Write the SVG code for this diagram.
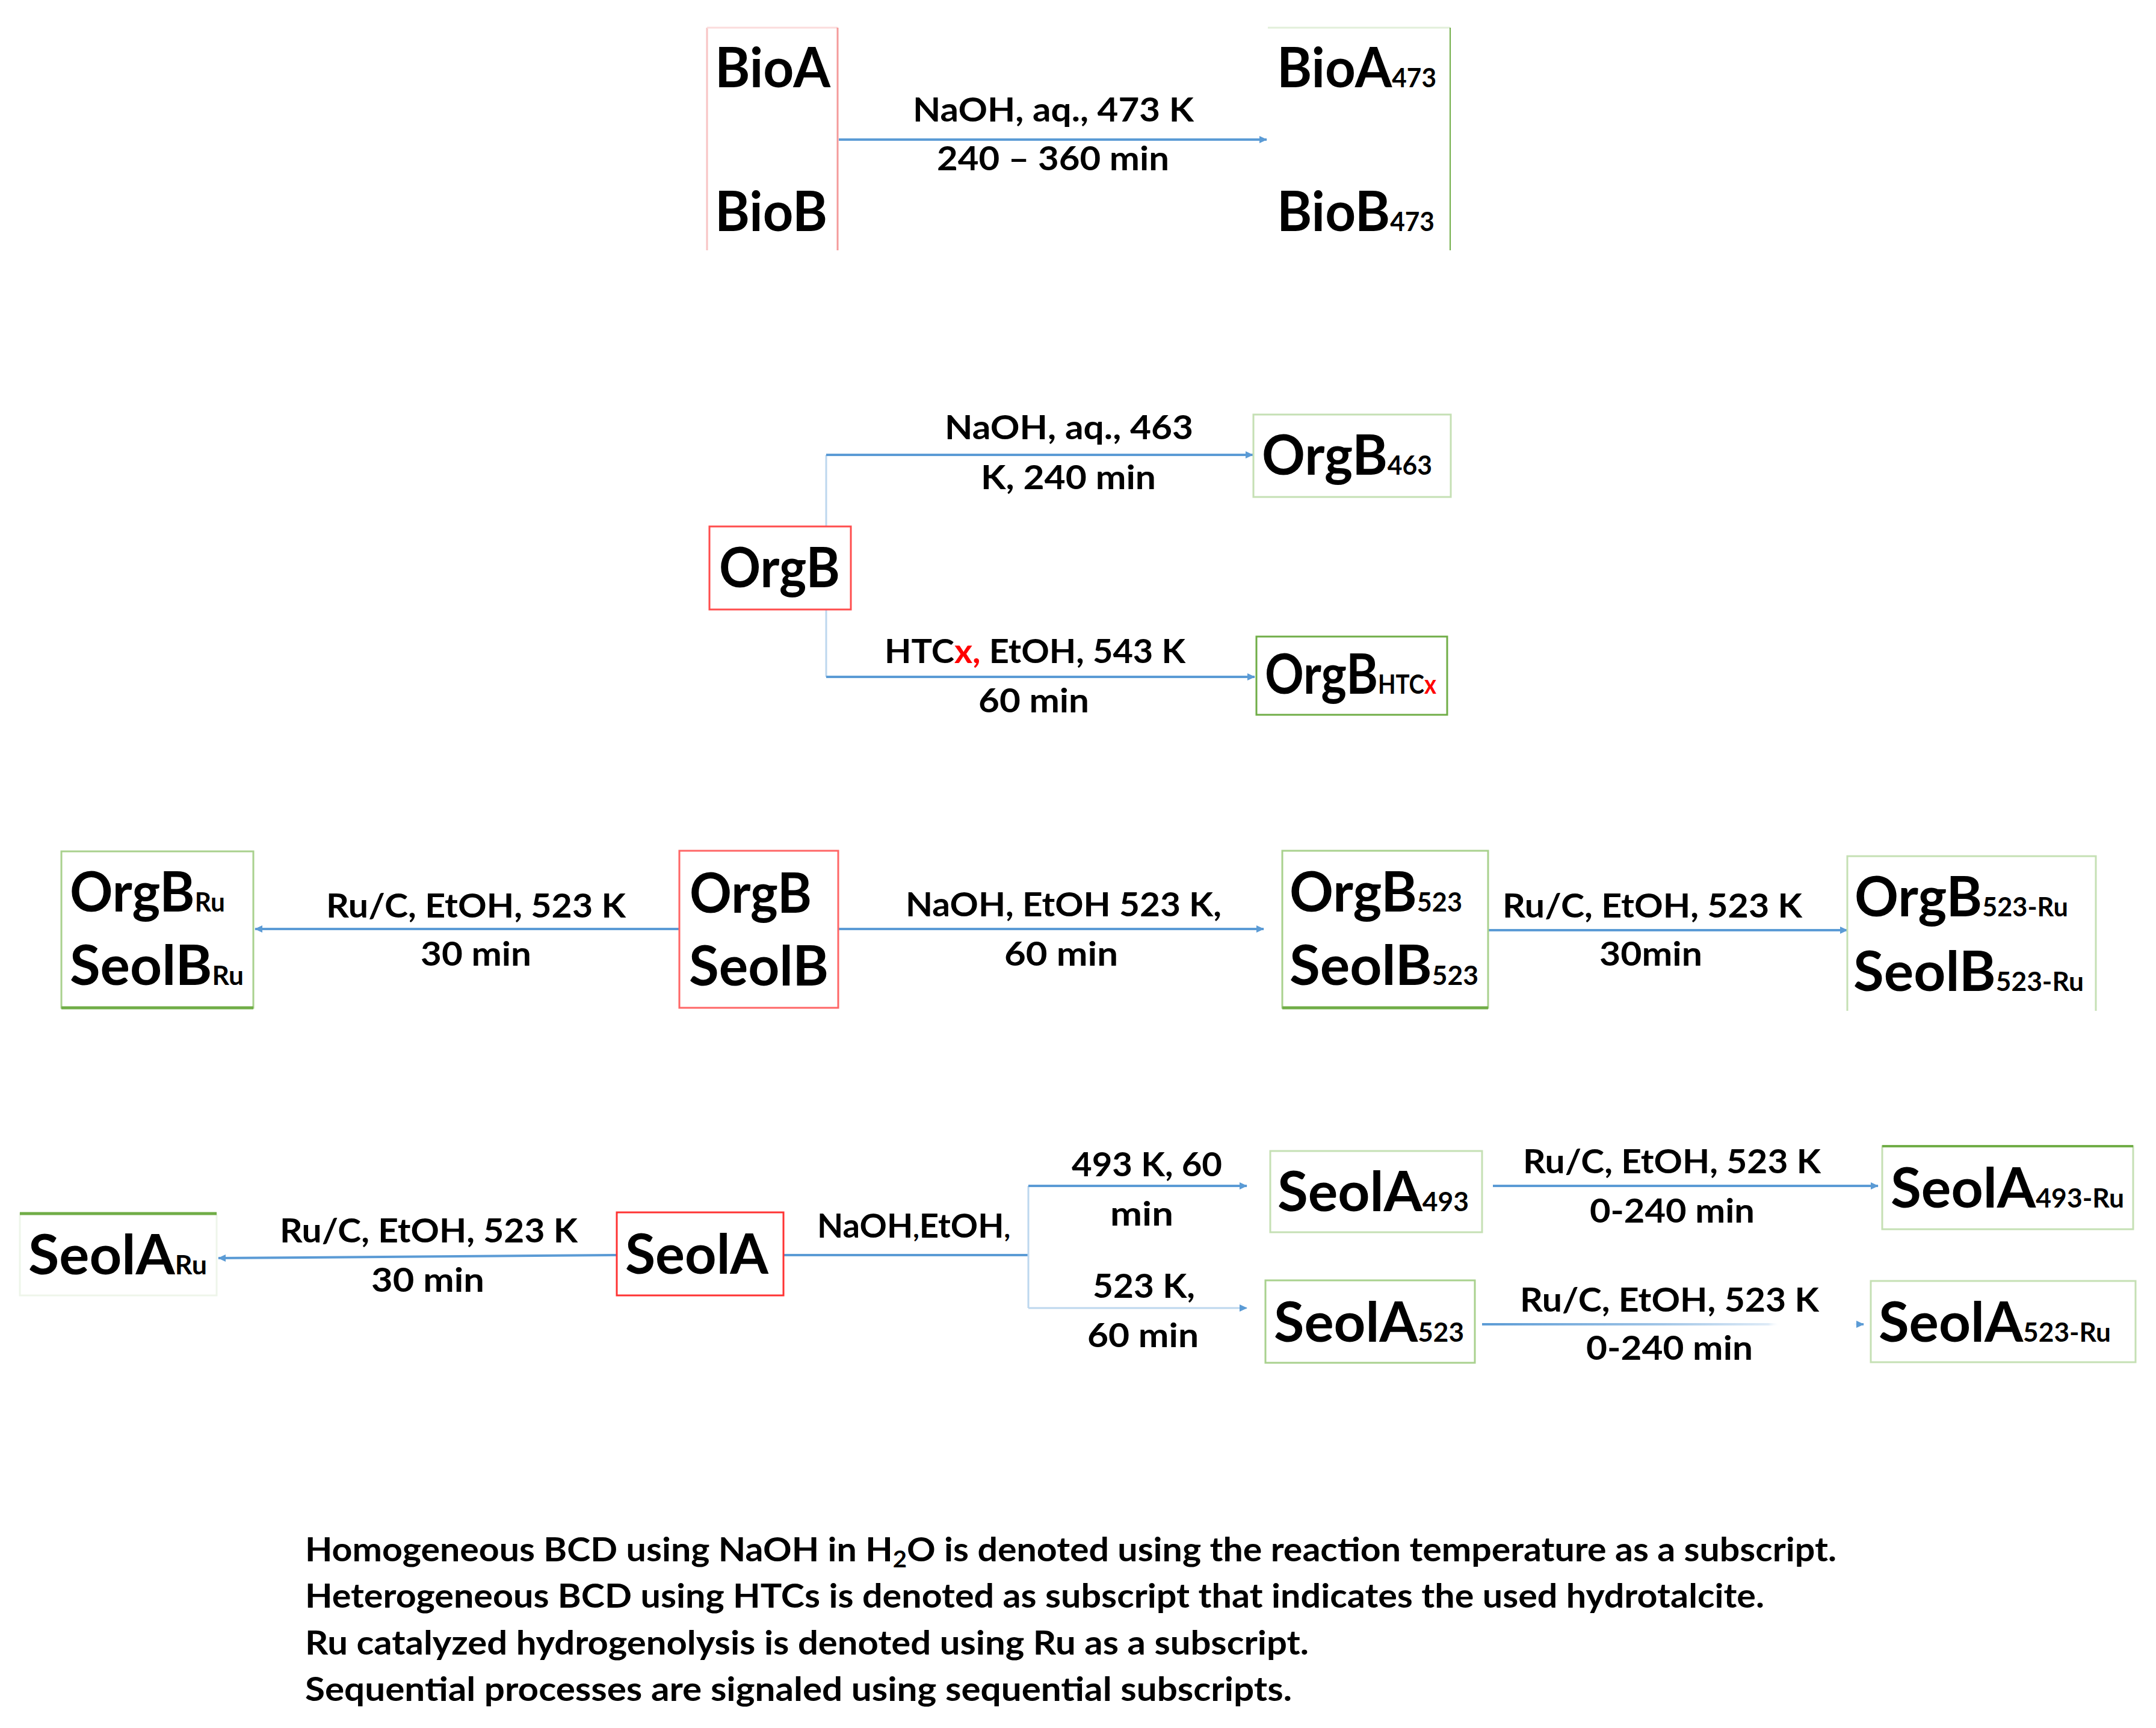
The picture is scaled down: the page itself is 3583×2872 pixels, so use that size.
<svg xmlns="http://www.w3.org/2000/svg" width="3583" height="2872" viewBox="0 0 3583 2872">
<style>
text{font-family:Lato,"Open Sans","Liberation Sans",sans-serif;font-weight:700;fill:#000}
.n{font-size:92px}
.s{font-size:44px}
.l{font-size:55px}
.f{font-size:56px}
.r{fill:#ff0000}
.bx{fill:none;stroke-width:3}
.red{stroke:#ff4d4d}
.g1{stroke:#c5e0b4}
.g2{stroke:#a9d18e}
.g3{stroke:#70ad47}
.c{fill:none;stroke:#5b9bd5;stroke-width:4}
.cl{fill:none;stroke:#bdd7ee;stroke-width:3}
</style>
<defs>
<marker id="ah" markerUnits="userSpaceOnUse" markerWidth="14" markerHeight="14" refX="12" refY="7" orient="auto">
<path d="M0,1 L13,7 L0,13 Z" fill="#5b9bd5"/>
</marker>
<linearGradient id="fade" gradientUnits="userSpaceOnUse" x1="2463" y1="0" x2="3097" y2="0">
<stop offset="0" stop-color="#5b9bd5"/>
<stop offset="0.45" stop-color="#9dc3e6"/>
<stop offset="0.75" stop-color="#deebf7"/>
<stop offset="0.78" stop-color="#ffffff" stop-opacity="0"/>
<stop offset="0.97" stop-color="#ffffff" stop-opacity="0"/>
<stop offset="1" stop-color="#5b9bd5"/>
</linearGradient>
</defs>
<rect width="3583" height="2872" fill="#ffffff"/>

<g id="connectors">
<line class="c" x1="1394" y1="232" x2="2105" y2="232" marker-end="url(#ah)"/>
<path class="cl" d="M1373,875 V756"/>
<path class="c" d="M1373,756 H2082" marker-end="url(#ah)"/>
<path class="cl" d="M1373,1013 V1125"/>
<path class="c" d="M1373,1125 H2085" marker-end="url(#ah)"/>
<line class="c" x1="1129" y1="1544" x2="424" y2="1544" marker-end="url(#ah)"/>
<line class="c" x1="1393" y1="1544" x2="2100" y2="1544" stroke="#7fb2e0" marker-end="url(#ah)"/>
<line class="c" x1="2473" y1="1546" x2="3070" y2="1546" marker-end="url(#ah)"/>
<line class="c" x1="1025" y1="2086" x2="363" y2="2091" marker-end="url(#ah)"/>
<line class="c" x1="1302" y1="2086" x2="1709" y2="2086"/>
<path class="cl" d="M1709,1971 V2174"/>
<line class="c" x1="1709" y1="1971" x2="2072" y2="1971" stroke="#9dc3e6" marker-end="url(#ah)"/>
<line class="cl" x1="1709" y1="2174" x2="2072" y2="2174" marker-end="url(#ah)"/>
<line class="c" x1="2481" y1="1971" x2="3121" y2="1971" stroke="#9dc3e6" marker-end="url(#ah)"/>
<line x1="2463" y1="2201" x2="3097" y2="2201" fill="none" stroke="url(#fade)" stroke-width="4" marker-end="url(#ah)"/>
</g>

<g id="labels">
<text class="l" x="1517" y="202" textLength="467" lengthAdjust="spacingAndGlyphs">NaOH, aq., 473 K</text>
<text class="l" x="1557" y="283" textLength="386" lengthAdjust="spacingAndGlyphs">240 – 360 min</text>
<text class="l" x="1570" y="730" textLength="413" lengthAdjust="spacingAndGlyphs">NaOH, aq., 463</text>
<text class="l" x="1630" y="813" textLength="291" lengthAdjust="spacingAndGlyphs">K, 240 min</text>
<text class="l" x="1470" y="1102" textLength="500" lengthAdjust="spacingAndGlyphs">HTC<tspan class="r">x,</tspan> EtOH, 543 K</text>
<text class="l" x="1626" y="1184" textLength="184" lengthAdjust="spacingAndGlyphs">60 min</text>
<text class="l" x="542" y="1525" textLength="498" lengthAdjust="spacingAndGlyphs">Ru/C, EtOH, 523 K</text>
<text class="l" x="699" y="1605" textLength="184" lengthAdjust="spacingAndGlyphs">30 min</text>
<text class="l" x="1505" y="1523" textLength="525" lengthAdjust="spacingAndGlyphs">NaOH, EtOH 523 K,</text>
<text class="l" x="1669" y="1605" textLength="189" lengthAdjust="spacingAndGlyphs">60 min</text>
<text class="l" x="2497" y="1525" textLength="498" lengthAdjust="spacingAndGlyphs">Ru/C, EtOH, 523 K</text>
<text class="l" x="2658" y="1605" textLength="171" lengthAdjust="spacingAndGlyphs">30min</text>
<text class="l" x="465" y="2065" textLength="495" lengthAdjust="spacingAndGlyphs">Ru/C, EtOH, 523 K</text>
<text class="l" x="617" y="2147" textLength="188" lengthAdjust="spacingAndGlyphs">30 min</text>
<text class="l" x="1358" y="2057" textLength="321" lengthAdjust="spacingAndGlyphs">NaOH<tspan class="s">,</tspan>EtOH<tspan class="s">,</tspan></text>
<text class="l" x="1781" y="1955" textLength="250" lengthAdjust="spacingAndGlyphs">493 K, 60</text>
<text class="l" x="1845" y="2037" textLength="105" lengthAdjust="spacingAndGlyphs">min</text>
<text class="l" x="1816" y="2157" textLength="170" lengthAdjust="spacingAndGlyphs">523 K,</text>
<text class="l" x="1807" y="2239" textLength="185" lengthAdjust="spacingAndGlyphs">60 min</text>
<text class="l" x="2531" y="1950" textLength="495" lengthAdjust="spacingAndGlyphs">Ru/C, EtOH, 523 K</text>
<text class="l" x="2642" y="2032" textLength="274" lengthAdjust="spacingAndGlyphs">0-240 min</text>
<text class="l" x="2526" y="2180" textLength="497" lengthAdjust="spacingAndGlyphs">Ru/C, EtOH, 523 K</text>
<text class="l" x="2636" y="2260" textLength="277" lengthAdjust="spacingAndGlyphs">0-240 min</text>
</g>

<g id="node-BioAB">
<path d="M1175,416 V46" fill="none" stroke="#f8c4c4" stroke-width="3"/>
<path d="M1175,46 H1392" fill="none" stroke="#fbdcdc" stroke-width="3"/>
<path d="M1392,46 V416" fill="none" stroke="#f49a9a" stroke-width="3"/>
<text class="n" x="1188" y="145" textLength="192" lengthAdjust="spacingAndGlyphs">BioA</text>
<text class="n" x="1188" y="384" textLength="187" lengthAdjust="spacingAndGlyphs">BioB</text>
</g>
<g id="node-BioAB473">
<path d="M2107,46 H2410" fill="none" stroke="#e2efda" stroke-width="3"/>
<path d="M2410,46 V416" fill="none" stroke="#70ad47" stroke-width="2"/>
<text class="n" x="2122" y="145" textLength="265" lengthAdjust="spacingAndGlyphs">BioA<tspan class="s">473</tspan></text>
<text class="n" x="2122" y="384" textLength="262" lengthAdjust="spacingAndGlyphs">BioB<tspan class="s">473</tspan></text>
</g>

<g id="node-OrgB">
<rect class="bx red" x="1179" y="875" width="235" height="138"/>
<text class="n" x="1195" y="976" textLength="201" lengthAdjust="spacingAndGlyphs">OrgB</text>
</g>
<g id="node-OrgB463">
<rect class="bx g1" x="2083" y="689" width="328" height="137"/>
<text class="n" x="2097" y="789" textLength="283" lengthAdjust="spacingAndGlyphs">OrgB<tspan class="s">463</tspan></text>
</g>
<g id="node-OrgBHTCx">
<rect class="bx g3" x="2088" y="1058" width="317" height="130"/>
<text class="n" x="2102" y="1153" textLength="285" lengthAdjust="spacingAndGlyphs">OrgB<tspan class="s">HTC<tspan class="r">x</tspan></tspan></text>
</g>

<g id="node-OrgBRu">
<rect class="bx g2" x="102" y="1415" width="319" height="260"/>
<path d="M102,1675 H421" fill="none" stroke="#70ad47" stroke-width="5"/>
<text class="n" x="116" y="1515" textLength="258" lengthAdjust="spacingAndGlyphs">OrgB<tspan class="s">Ru</tspan></text>
<text class="n" x="116" y="1637" textLength="289" lengthAdjust="spacingAndGlyphs">SeolB<tspan class="s">Ru</tspan></text>
</g>
<g id="node-OrgBSeolB">
<rect class="bx" x="1129" y="1414" width="264" height="261" stroke="#ff6666"/>
<text class="n" x="1146" y="1517" textLength="203" lengthAdjust="spacingAndGlyphs">OrgB</text>
<text class="n" x="1145" y="1638" textLength="232" lengthAdjust="spacingAndGlyphs">SeolB</text>
</g>
<g id="node-OrgB523">
<rect class="bx g2" x="2131" y="1414" width="342" height="261"/>
<path d="M2131,1675 H2473" fill="none" stroke="#70ad47" stroke-width="5"/>
<text class="n" x="2143" y="1515" textLength="287" lengthAdjust="spacingAndGlyphs">OrgB<tspan class="s">523</tspan></text>
<text class="n" x="2143" y="1637" textLength="314" lengthAdjust="spacingAndGlyphs">SeolB<tspan class="s">523</tspan></text>
</g>
<g id="node-OrgB523Ru">
<path d="M3070,1680 V1423 H3483 V1680" fill="none" stroke="#c5e0b4" stroke-width="3"/>
<text class="n" x="3082" y="1523" textLength="355" lengthAdjust="spacingAndGlyphs">OrgB<tspan class="s">523-Ru</tspan></text>
<text class="n" x="3080" y="1647" textLength="383" lengthAdjust="spacingAndGlyphs">SeolB<tspan class="s">523-Ru</tspan></text>
</g>

<g id="node-SeolARu">
<rect class="bx" x="33" y="2017" width="327" height="136" stroke="#eef5ea"/>
<path d="M33,2017 H360" fill="none" stroke="#70ad47" stroke-width="5"/>
<text class="n" x="47" y="2118" textLength="297" lengthAdjust="spacingAndGlyphs">SeolA<tspan class="s">Ru</tspan></text>
</g>
<g id="node-SeolA">
<rect class="bx" x="1025" y="2015" width="277" height="138" stroke="#ff3333"/>
<text class="n" x="1039" y="2117" textLength="238" lengthAdjust="spacingAndGlyphs">SeolA</text>
</g>
<g id="node-SeolA493">
<rect class="bx g1" x="2111" y="1913" width="352" height="135"/>
<text class="n" x="2123" y="2013" textLength="318" lengthAdjust="spacingAndGlyphs">SeolA<tspan class="s">493</tspan></text>
</g>
<g id="node-SeolA523">
<rect class="bx g2" x="2103" y="2128" width="348" height="137"/>
<text class="n" x="2117" y="2230" textLength="316" lengthAdjust="spacingAndGlyphs">SeolA<tspan class="s">523</tspan></text>
</g>
<g id="node-SeolA493Ru">
<rect class="bx g1" x="3128" y="1905" width="417" height="138"/>
<path d="M3128,1905 H3545" fill="none" stroke="#70ad47" stroke-width="4"/>
<text class="n" x="3142" y="2007" textLength="388" lengthAdjust="spacingAndGlyphs">SeolA<tspan class="s">493-Ru</tspan></text>
</g>
<g id="node-SeolA523Ru">
<rect class="bx g1" x="3109" y="2129" width="440" height="135"/>
<text class="n" x="3122" y="2230" textLength="386" lengthAdjust="spacingAndGlyphs">SeolA<tspan class="s">523-Ru</tspan></text>
</g>

<g id="legend">
<text class="f" x="507" y="2595" textLength="2545" lengthAdjust="spacingAndGlyphs">Homogeneous BCD using NaOH in H<tspan font-size="38" dy="10">2</tspan><tspan dy="-10">O is denoted using the reaction temperature as a subscript.</tspan></text>
<text class="f" x="507" y="2672" textLength="2425" lengthAdjust="spacingAndGlyphs">Heterogeneous BCD using HTCs is denoted as subscript that indicates the used hydrotalcite.</text>
<text class="f" x="507" y="2750" textLength="1668" lengthAdjust="spacingAndGlyphs">Ru catalyzed hydrogenolysis is denoted using Ru as a subscript.</text>
<text class="f" x="507" y="2827" textLength="1640" lengthAdjust="spacingAndGlyphs">Sequential processes are signaled using sequential subscripts.</text>
</g>
</svg>
